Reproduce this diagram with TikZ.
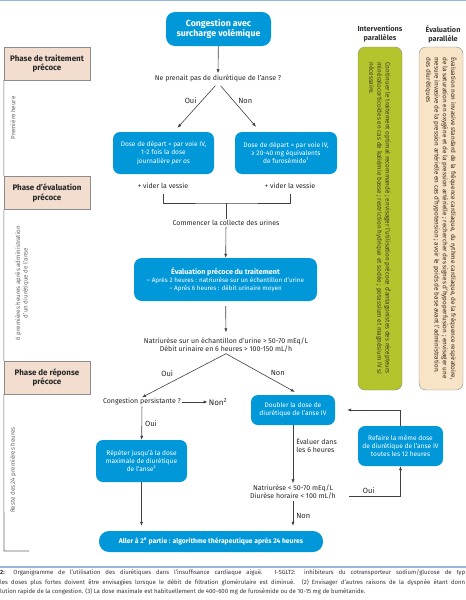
\documentclass[tikz,border=0pt]{standalone}
\usepackage{fontspec}
\setmainfont{Fira Sans}
\usetikzlibrary{arrows.meta,positioning}

\definecolor{diublue}{RGB}{0,152,216}
\definecolor{phasepink}{RGB}{242,221,207}
\definecolor{intgreen}{RGB}{180,196,44}
\definecolor{evalbeige}{RGB}{247,228,198}
\definecolor{sepblue}{RGB}{150,182,222}

\begin{document}
\begin{tikzpicture}[x=1pt,y=-1pt,
  >={Latex[length=4pt,width=3.2pt]},
  Box/.style={fill=diublue,text=white,rounded corners=7pt,align=center,inner sep=2pt,font=\fontsize{6.6}{8.2}\selectfont},
  Phase/.style={draw=black!45,fill=phasepink,minimum width=86pt,minimum height=33pt,align=center,font=\fontsize{8}{9.6}\selectfont\bfseries,text=black!85},
  Txt/.style={align=center,inner sep=1pt,font=\fontsize{7}{8.6}\selectfont,text=black!85},
  Lbl/.style={inner sep=1pt,font=\fontsize{7.5}{8.5}\selectfont,text=black!85},
  Side/.style={rotate=90,align=center,font=\fontsize{6.2}{7.6}\selectfont,text=black!60},
  Head/.style={align=center,font=\fontsize{7.3}{8.8}\selectfont\bfseries,text=black!80},
  Para/.style={rotate=-90,draw=black!45,rounded corners=7pt,minimum width=343pt,minimum height=44pt,align=left,font=\fontsize{6.4}{8.2}\selectfont},
  Cap/.style={anchor=west,inner sep=0pt,font=\fontsize{6}{7}\selectfont,text=black!80},
  wire/.style={draw=black!75,line width=0.6pt}]
\useasboundingbox (0,0) rectangle (466,600);
\draw[sepblue,line width=1.2pt] (0,0.6) -- (466,0.6);

% Phases on the left
\node[Phase] (phA) at (47,63.5) {Phase de traitement\\précoce};
\node[Phase] (phB) at (47,193) {Phase d'évaluation\\précoce};
\node[Phase] (phC) at (47,377.5) {Phase de réponse\\précoce};
\coordinate (tlend) at (4,551);
\coordinate (tlstub) at (29,551);
\draw[wire,black!60] (phA.south west) -- (phB.north west) (phB.south west) -- (phC.north west)
  (phC.south west) -- (tlend) -- (tlstub);
\node[Side] (sideA) at (13,118) {Première heure};
\node[Side] (sideB) at (22,283) {6 premières heures après administration\\d'un diurétique de l'anse};
\node[Side] (sideC) at (13,470) {Reste des 24 premières heures};

% First row
\node[Box,font=\fontsize{8.8}{10.8}\selectfont\bfseries,minimum width=105pt,minimum height=34pt,rounded corners=9pt] (congest) at (218.5,29) {Congestion avec\\surcharge volémique};
\node[Txt] (noloop) at (218,78) {Ne prenait pas de diurétique de l'anse ?};
\draw[->,wire] (congest) -- (noloop);
% Second row
\node[Box,minimum width=101pt,minimum height=42pt] (doseA) at (163.5,153) {Dose de départ = par voie IV,\\1-2 fois la dose\\journalière \textit{per os}};
\node[Box,minimum width=102pt,minimum height=42pt] (doseB) at (286,153) {Dose de départ = par voie IV,\\≥ 20-40 mg équivalents\\de furosémide\textsuperscript{1}};
\draw[->,wire,shorten <=4pt] (noloop.south) -- ([xshift=14pt,yshift=4pt]doseA.north) node[Lbl,midway,above left] {Oui};
\draw[->,wire,shorten <=4pt] (noloop.south) -- ([xshift=-30pt,yshift=5pt]doseB.north) node[Lbl,midway,above right] {Non};
\node[Txt] (vessA) at (163,186) {+ vider la vessie};
\node[Txt] (vessB) at (290,186) {+ vider la vessie};
\coordinate (collectjoin) at (226,203);
\draw[wire,shorten <=4pt,shorten >=4pt] (vessA.south) |- (collectjoin) -| (vessB.south);
\node[Txt] (collect) at (226,223) {Commencer la collecte des urines};
\draw[wire] (collectjoin) -- (collect);

% Third row
\node[Box,minimum width=183pt,minimum height=43pt,rounded corners=8pt,font=\fontsize{6.3}{8}\selectfont] (eval) at (225.5,279.5) {\textbf{\fontsize{7.2}{9}\selectfont Évaluation précoce du traitement}\\– Après 2 heures : natriurèse sur un échantillon d'urine\\– Après 6 heures : débit urinaire moyen};
\draw[->,wire] (collect) -- (eval);
\node[Txt] (natriA) at (226,345) {Natriurèse sur un échantillon d'urine > 50-70 mEq/L\\Débit urinaire en 6 heures > 100-150 mL/h};
\draw[->,wire,shorten <=5pt,shorten >=4pt] (eval) -- (natriA);

% Fourth row
\node[Txt] (persist) at (142,402) {Congestion persistante ?};
\node[Lbl,font=\fontsize{8}{9.5}\selectfont] (non2) at (218,402) {Non\textsuperscript{2}};
\node[Box,minimum width=84pt,minimum height=30pt] (double) at (293,410) {Doubler la dose de\\diurétique de l'anse IV};
\draw[->,wire] (natriA.south) -- (persist.north) node[Lbl,pos=0.7,above=6pt] {Oui};
\draw[->,wire,shorten >=6pt] (natriA.south) -- ([xshift=7pt]double.north) node[Lbl,pos=0.7,above=6pt] {Non};
\draw[->,wire] (persist) -- (non2);
\node[Box,minimum width=91pt,minimum height=42pt] (repeat) at (141.5,461) {Répéter jusqu'à la dose\\maximale de diurétique\\de l'anse\textsuperscript{3}};
\draw[->,wire] (persist) -- (repeat) node[Lbl,midway,right=2pt] {Oui};
\node[Box,minimum width=85pt,minimum height=40pt] (redo) at (400.5,446) {Refaire la même dose\\de diurétique de l'anse IV\\toutes les 12 heures};
\node[Txt] (natriB) at (293,492) {Natriurèse < 50-70 mEq/L\\Diurèse horaire < 100 mL/h};
\draw[->,wire] (double) -- (natriB) node[Txt,pos=0.35,right=2pt,align=left] {Évaluer dans\\les 6 heures};
\draw[->,wire,shorten <=12pt] ([yshift=-4pt]natriB.east) -| (redo.south) node[Lbl,pos=0.25,above=1pt] {Oui};
\draw[->,wire,shorten >=12pt] (redo.north) |- (double.east);

% Last row
\node[Box,font=\fontsize{6.8}{8}\selectfont\bfseries,minimum width=224pt,minimum height=21pt,rounded corners=10pt] (final) at (211,541.5) {Aller à 2\textsuperscript{e} partie : algorithme thérapeutique après 24 heures};
\draw[->,wire,shorten >=5pt] (repeat) -- (repeat |- final.north);
\draw[->,wire,shorten >=5pt] (natriB) -- (natriB |- final.north) node[Lbl,midway,right=2pt] {Non};

% Parallel columns
\node[Head] (hdInt) at (380,34) {Interventions\\parallèles};
\node[Head] (hdEval) at (443,34) {Évaluation\\parallèle};
\node[Para,fill=intgreen,text=black!75!olive] (intbox) at (380,218.5) {Continuer le traitement optimal recommandé ; envisager l'utilisation précoce d'antagonistes des récepteurs\\minéralocorticoïdes en cas de kaliémie basse ; restriction hydrique et sodée ; potassium et magnésium IV si\\nécessaire.};
\node[Para,fill=evalbeige,text=black!70!brown] (evalbox) at (441,218.5) {Évaluation non invasive standard de la fréquence cardiaque, du rythme cardiaque, de la fréquence respiratoire,\\de la saturation en oxygène et de la pression artérielle ; rechercher des signes d'hypoperfusion ; envisager une\\mesure invasive de la pression artérielle en cas d'hypotension ; avoir le poids de base avant l'administration.\\des diurétiques};

% Caption
\draw[sepblue,line width=1.2pt] (0,567) -- (466,567);
\node[Cap] (capA) at (0,573) {\makebox[465pt][s]{\textbf{2:} Organigramme de l'utilisation des diurétiques dans l'insuffisance cardiaque aiguë. I-SGLT2: inhibiteurs du cotransporteur sodium/glucose de typ}};
\node[Cap] (capB) at (0,582.5) {\makebox[465pt][s]{les doses plus fortes doivent être envisagées lorsque le débit de filtration glomérulaire est diminué. (2) Envisager d'autres raisons de la dyspnée étant donn}};
\node[Cap] (capC) at (0,592) {lution rapide de la congestion. (3) La dose maximale est habituellement de 400-600 mg de furosémide ou de 10-15 mg de bumétanide.};
\end{tikzpicture}
\end{document}
